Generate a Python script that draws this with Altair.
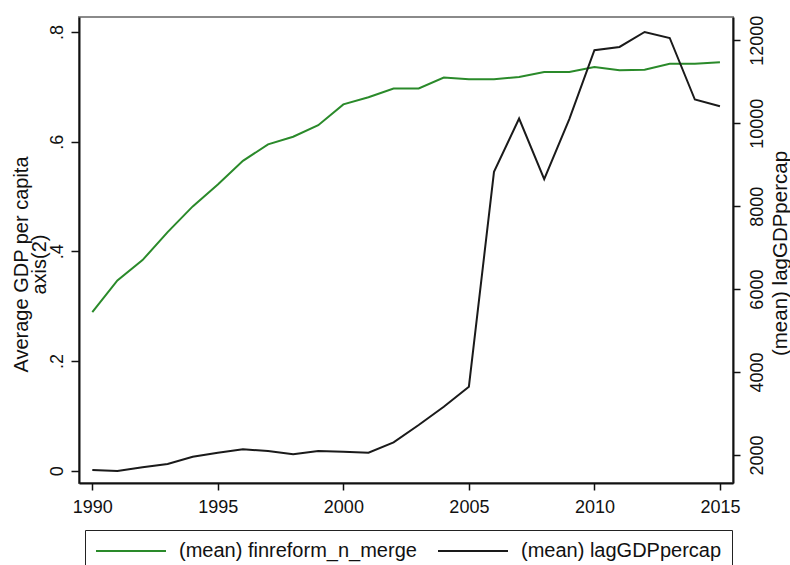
import altair as alt
import pandas as pd

# Yearly means, 1990-2015
years = list(range(1990, 2016))
finreform = [0.289, 0.347, 0.384, 0.435, 0.482, 0.522, 0.565, 0.595, 0.609, 0.630,
             0.668, 0.681, 0.697, 0.697, 0.717, 0.714, 0.714, 0.718, 0.727, 0.727,
             0.736, 0.730, 0.731, 0.742, 0.742, 0.745]
lag_gdp = [1639, 1614, 1704, 1783, 1959, 2055, 2137, 2096, 2017, 2096,
           2080, 2055, 2306, 2723, 3164, 3646, 8827, 10113, 8651, 10100,
           11759, 11839, 12200, 12055, 10571, 10410]

series_names = ["(mean) finreform_n_merge", "(mean) lagGDPpercap"]
series_colors = ["#2a8a2a", "#1a1a1a"]

left_ticks = [0, 0.2, 0.4, 0.6, 0.8]
right_ticks = [2000, 4000, 6000, 8000, 10000, 12000]
year_ticks = [1990, 1995, 2000, 2005, 2010, 2015]

df_fin = pd.DataFrame({"year": years, "value": finreform, "series": series_names[0]})
df_gdp = pd.DataFrame({"year": years, "value": lag_gdp, "series": series_names[1]})

FONT = "Liberation Sans"

x_enc = alt.X(
    "year:Q",
    scale=alt.Scale(domain=[1989.47, 2015.52], nice=False, zero=False),
    axis=alt.Axis(
        values=year_ticks, format="d", title=None, grid=False,
        domainColor="#111", domainWidth=2, tickColor="#111", tickSize=7, tickWidth=1.5,
        labelFontSize=18, labelColor="#111", labelBaseline="alphabetic", labelPadding=22,
        labelFont=FONT, labelFlush=False,
    ),
)

# legend key: a long horizontal stroke drawn as a custom symbol path
color_enc = alt.Color(
    "series:N",
    scale=alt.Scale(domain=series_names, range=series_colors),
    legend=alt.Legend(
        title=None, orient="none", legendX=6, legendY=513, direction="horizontal",
        symbolType="M-1,0H6", symbolSize=400, symbolStrokeWidth=2,
        symbolFillColor="transparent",
        labelFontSize=20, labelFont=FONT, labelColor="#111", labelOffset=62,
        columnPadding=17, padding=10, strokeColor="#222", fillColor="white",
        labelLimit=400,
    ),
)

fin_line = alt.Chart(df_fin).mark_line(strokeWidth=2).encode(
    x=x_enc,
    y=alt.Y(
        "value:Q",
        scale=alt.Scale(domain=[-0.0224, 0.8273], nice=False, zero=False),
        axis=alt.Axis(
            orient="left", values=left_ticks, grid=False,
            labelExpr="datum.value == 0 ? '0' : replace(format(datum.value, '.1f'), '0.', '.')",
            title=["Average GDP per capita", "axis(2)"],
            titleAngle=270, titleX=-52, titleY=247, titleAlign="center",
            titleBaseline="alphabetic", titleLineHeight=18.5,
            titleFontSize=20, titleFontWeight="normal", titleFont=FONT, titleColor="#111",
            labelAngle=270, labelAlign="center", labelBaseline="alphabetic",
            labelPadding=9, labelFontSize=18, labelFont=FONT, labelColor="#111",
            domainColor="#111", domainWidth=2, tickColor="#111", tickSize=8, tickWidth=1.5,
        ),
    ),
    color=color_enc,
)

gdp_line = alt.Chart(df_gdp).mark_line(strokeWidth=2).encode(
    x=x_enc,
    y=alt.Y(
        "value:Q",
        scale=alt.Scale(domain=[1325, 12561], nice=False, zero=False),
        axis=alt.Axis(
            orient="right", values=right_ticks, grid=False, format="d",
            title="(mean) lagGDPpercap",
            titleAngle=270, titleX=53, titleY=236, titleAlign="center",
            titleBaseline="alphabetic",
            titleFontSize=20.5, titleFontWeight="normal", titleFont=FONT, titleColor="#111",
            labelAngle=270, labelAlign="center", labelBaseline="alphabetic",
            labelPadding=22, labelFontSize=18, labelFont=FONT, labelColor="#111",
            domainColor="#111", domainWidth=2, tickColor="#111", tickSize=7, tickWidth=1.5,
        ),
    ),
    color=color_enc,
)

chart = (
    alt.layer(fin_line, gdp_line)
    .resolve_scale(y="independent")
    .properties(
        width=654,
        height=466,
        padding={"left": 79, "top": 17, "right": 57, "bottom": 82},
        autosize=alt.AutoSizeParams(type="none"),
        background="white",
    )
    .configure_view(stroke="#8a8a8a", strokeWidth=2)
)

chart.save("out.html", embed_options={"renderer": "svg", "actions": False})
